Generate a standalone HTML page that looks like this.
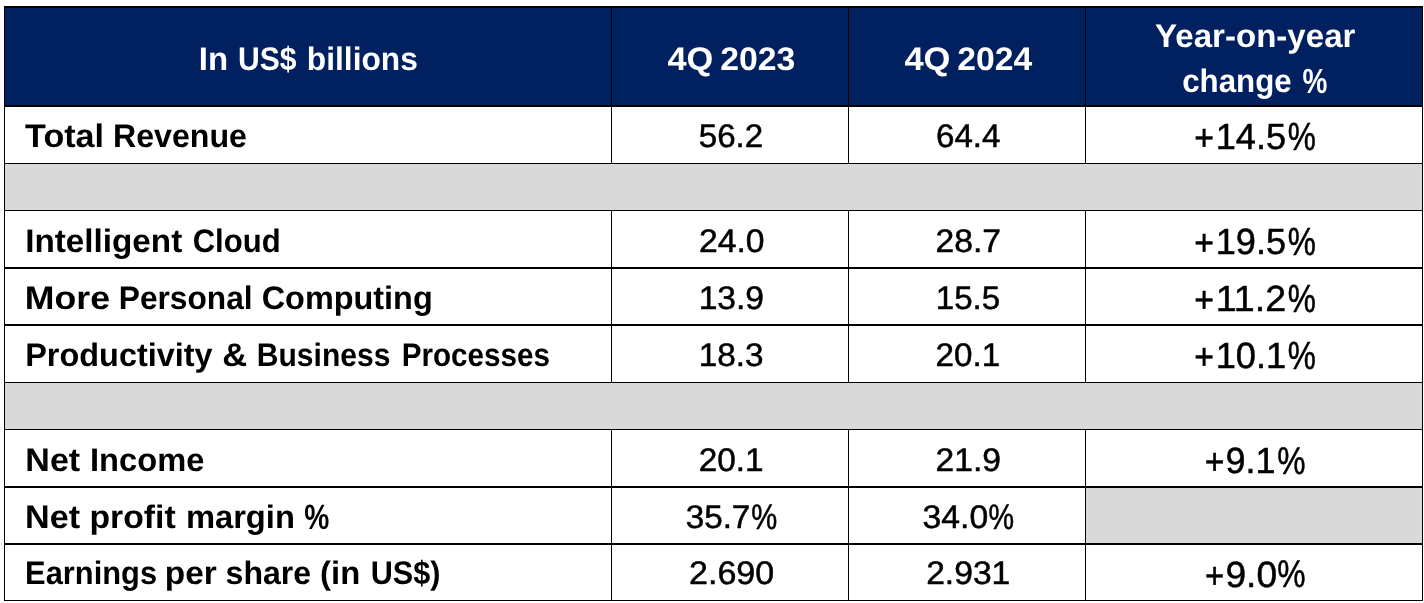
<!DOCTYPE html>
<html><head><meta charset="utf-8"><style>
html,body{margin:0;padding:0;background:#fff;width:1424px;height:603px;overflow:hidden}
svg{display:block}
text{font-family:"Liberation Sans",sans-serif}
</style></head><body>
<svg width="1424" height="603" viewBox="0 0 1424 603" shape-rendering="crispEdges">
<rect x="0" y="0" width="1424" height="603" fill="#fff"/>
<rect x="4" y="6" width="1419" height="101" fill="#002060"/>
<rect x="5" y="164" width="1417" height="46" fill="#d9d9d9"/>
<rect x="5" y="383" width="1417" height="46" fill="#d9d9d9"/>
<rect x="1086" y="488" width="336" height="55" fill="#d9d9d9"/>
<rect x="4" y="6" width="1419" height="2" fill="#000"/>
<rect x="4" y="6" width="1" height="595" fill="#000"/>
<rect x="1422" y="6" width="1" height="595" fill="#000"/>
<rect x="4" y="600" width="1419" height="1" fill="#000"/>
<rect x="4" y="105" width="1419" height="2" fill="#000"/>
<rect x="4" y="163" width="1419" height="1" fill="#000"/>
<rect x="4" y="210" width="1419" height="1" fill="#000"/>
<rect x="4" y="267" width="1419" height="2" fill="#000"/>
<rect x="4" y="324" width="1419" height="2" fill="#000"/>
<rect x="4" y="382" width="1419" height="1" fill="#000"/>
<rect x="4" y="429" width="1419" height="1" fill="#000"/>
<rect x="4" y="486" width="1419" height="2" fill="#000"/>
<rect x="4" y="543" width="1419" height="2" fill="#000"/>
<rect x="611" y="6" width="1" height="158" fill="#000"/>
<rect x="611" y="210" width="1" height="173" fill="#000"/>
<rect x="611" y="429" width="1" height="172" fill="#000"/>
<rect x="848" y="6" width="1" height="158" fill="#000"/>
<rect x="848" y="210" width="1" height="173" fill="#000"/>
<rect x="848" y="429" width="1" height="172" fill="#000"/>
<rect x="1085" y="6" width="1" height="158" fill="#000"/>
<rect x="1085" y="210" width="1" height="173" fill="#000"/>
<rect x="1085" y="429" width="1" height="172" fill="#000"/>
<g text-rendering="geometricPrecision" style="will-change:transform">
<text transform="translate(198.77 70.10) scale(1.0139 1.0000)" font-size="32.6" font-weight="bold" fill="#fff">In</text>
<text transform="translate(237.97 70.10) scale(0.9252 1.0000)" font-size="32.6" font-weight="bold" fill="#fff">US$</text>
<text transform="translate(306.85 70.10) scale(0.9729 1.0000)" font-size="32.6" font-weight="bold" fill="#fff">billions</text>
<text transform="translate(667.40 69.90) scale(1.0542 1.0000)" font-size="32.6" font-weight="bold" fill="#fff">4Q</text>
<text transform="translate(720.26 69.90) scale(1.0362 1.0000)" font-size="32.6" font-weight="bold" fill="#fff">2023</text>
<text transform="translate(904.40 69.90) scale(1.0589 1.0000)" font-size="32.6" font-weight="bold" fill="#fff">4Q</text>
<text transform="translate(957.27 69.90) scale(1.0343 1.0000)" font-size="32.6" font-weight="bold" fill="#fff">2024</text>
<text transform="translate(1155.10 46.80) scale(1.0147 1.0000)" font-size="32.6" font-weight="bold" fill="#fff">Year-on-year</text>
<text transform="translate(1182.14 91.50) scale(0.9604 1.0000)" font-size="32.6" font-weight="bold" fill="#fff">change</text>
<text transform="translate(1302.50 92.80) scale(0.8586 1.0739)" font-size="32.6" font-weight="bold" fill="#fff">%</text>
<text transform="translate(25.10 146.70) scale(1.0471 1.0000)" font-size="32.6" font-weight="bold" fill="#000">Total</text>
<text transform="translate(112.93 146.70) scale(0.9873 1.0000)" font-size="32.6" font-weight="bold" fill="#000">Revenue</text>
<text transform="translate(25.16 251.80) scale(1.0211 1.0000)" font-size="32.6" font-weight="bold" fill="#000">Intelligent</text>
<text transform="translate(192.65 251.80) scale(0.9533 1.0000)" font-size="32.6" font-weight="bold" fill="#000">Cloud</text>
<text transform="translate(24.81 308.90) scale(1.0948 1.0000)" font-size="32.6" font-weight="bold" fill="#000">More</text>
<text transform="translate(118.75 308.90) scale(0.9726 1.0000)" font-size="32.6" font-weight="bold" fill="#000">Personal</text>
<text transform="translate(261.71 308.90) scale(0.9947 1.0000)" font-size="32.6" font-weight="bold" fill="#000">Computing</text>
<text transform="translate(25.21 365.80) scale(0.9955 1.0000)" font-size="32.6" font-weight="bold" fill="#000">Productivity</text>
<text transform="translate(222.24 365.80) scale(1.0591 1.0000)" font-size="32.6" font-weight="bold" fill="#000">&amp;</text>
<text transform="translate(256.86 365.80) scale(0.9214 1.0000)" font-size="32.6" font-weight="bold" fill="#000">Business</text>
<text transform="translate(401.68 365.80) scale(0.9093 1.0000)" font-size="32.6" font-weight="bold" fill="#000">Processes</text>
<text transform="translate(25.31 470.80) scale(1.0445 1.0000)" font-size="32.6" font-weight="bold" fill="#000">Net</text>
<text transform="translate(90.00 470.80) scale(1.0024 1.0000)" font-size="32.6" font-weight="bold" fill="#000">Income</text>
<text transform="translate(25.10 527.90) scale(1.0485 1.0000)" font-size="32.6" font-weight="bold" fill="#000">Net</text>
<text transform="translate(89.53 527.90) scale(1.0347 1.0000)" font-size="32.6" font-weight="bold" fill="#000">profit</text>
<text transform="translate(185.89 527.90) scale(1.0037 1.0000)" font-size="32.6" font-weight="bold" fill="#000">margin</text>
<text transform="translate(304.30 528.80) scale(0.8655 1.0783)" font-size="32.6" font-weight="bold" fill="#000">%</text>
<text transform="translate(25.11 584.30) scale(0.9466 1.0000)" font-size="32.6" font-weight="bold" fill="#000">Earnings</text>
<text transform="translate(164.75 584.30) scale(1.0241 1.0000)" font-size="32.6" font-weight="bold" fill="#000">per</text>
<text transform="translate(225.62 584.30) scale(0.9833 1.0000)" font-size="32.6" font-weight="bold" fill="#000">share</text>
<text transform="translate(320.09 584.30) scale(1.0081 1.0000)" font-size="32.6" font-weight="bold" fill="#000">(in</text>
<text transform="translate(370.76 584.30) scale(0.9396 1.0000)" font-size="32.6" font-weight="bold" fill="#000">US$)</text>
<text transform="translate(698.78 146.90) scale(1.0165 1.0000)" font-size="32.6" stroke="#000" stroke-width="0.5" fill="#000">56.2</text>
<text transform="translate(698.97 251.90) scale(1.0345 1.0000)" font-size="32.6" stroke="#000" stroke-width="0.5" fill="#000">24.0</text>
<text transform="translate(698.64 308.90) scale(1.0317 1.0000)" font-size="32.6" stroke="#000" stroke-width="0.5" fill="#000">13.9</text>
<text transform="translate(698.65 365.90) scale(1.0234 1.0000)" font-size="32.6" stroke="#000" stroke-width="0.5" fill="#000">18.3</text>
<text transform="translate(698.68 470.90) scale(1.0230 1.0000)" font-size="32.6" stroke="#000" stroke-width="0.5" fill="#000">20.1</text>
<text transform="translate(685.68 528.00) scale(1.0198 1.0000)" font-size="32.6" stroke="#000" stroke-width="0.5" fill="#000">35.7</text>
<text transform="translate(751.20 528.80) scale(0.8963 1.0870)" font-size="32.6" stroke="#000" stroke-width="0.5" fill="#000">%</text>
<text transform="translate(689.06 584.20) scale(1.0440 1.0000)" font-size="32.6" stroke="#000" stroke-width="0.5" fill="#000">2.690</text>
<text transform="translate(935.98 146.80) scale(1.0162 1.0000)" font-size="32.6" stroke="#000" stroke-width="0.5" fill="#000">64.4</text>
<text transform="translate(935.57 251.90) scale(1.0312 1.0000)" font-size="32.6" stroke="#000" stroke-width="0.5" fill="#000">28.7</text>
<text transform="translate(935.77 308.90) scale(1.0151 1.0000)" font-size="32.6" stroke="#000" stroke-width="0.5" fill="#000">15.5</text>
<text transform="translate(935.58 365.90) scale(1.0181 1.0000)" font-size="32.6" stroke="#000" stroke-width="0.5" fill="#000">20.1</text>
<text transform="translate(935.57 470.90) scale(1.0312 1.0000)" font-size="32.6" stroke="#000" stroke-width="0.5" fill="#000">21.9</text>
<text transform="translate(922.57 528.00) scale(1.0345 1.0000)" font-size="32.6" stroke="#000" stroke-width="0.5" fill="#000">34.0</text>
<text transform="translate(988.62 528.80) scale(0.8815 1.0870)" font-size="32.6" stroke="#000" stroke-width="0.5" fill="#000">%</text>
<text transform="translate(926.17 584.20) scale(1.0314 1.0000)" font-size="32.6" stroke="#000" stroke-width="0.5" fill="#000">2.931</text>
<text transform="translate(1194.37 150.00) scale(0.9263 1.0000)" font-size="36.4" stroke="#000" stroke-width="0.5" fill="#000">+</text>
<text transform="translate(1215.71 148.80) scale(0.9928 1.0000)" font-size="36.4" stroke="#000" stroke-width="0.5" fill="#000">14.5</text>
<text transform="translate(1287.63 149.80) scale(0.8677 1.0769)" font-size="36.4" stroke="#000" stroke-width="0.5" fill="#000">%</text>
<text transform="translate(1194.37 255.00) scale(0.9263 1.0000)" font-size="36.4" stroke="#000" stroke-width="0.5" fill="#000">+</text>
<text transform="translate(1215.71 253.80) scale(0.9928 1.0000)" font-size="36.4" stroke="#000" stroke-width="0.5" fill="#000">19.5</text>
<text transform="translate(1287.63 254.80) scale(0.8677 1.0769)" font-size="36.4" stroke="#000" stroke-width="0.5" fill="#000">%</text>
<text transform="translate(1194.37 312.00) scale(0.9263 1.0000)" font-size="36.4" stroke="#000" stroke-width="0.5" fill="#000">+</text>
<text transform="translate(1215.63 310.80) scale(1.0341 1.0000)" font-size="36.4" stroke="#000" stroke-width="0.5" fill="#000">11.2</text>
<text transform="translate(1287.63 311.80) scale(0.8677 1.0769)" font-size="36.4" stroke="#000" stroke-width="0.5" fill="#000">%</text>
<text transform="translate(1194.37 369.00) scale(0.9263 1.0000)" font-size="36.4" stroke="#000" stroke-width="0.5" fill="#000">+</text>
<text transform="translate(1215.71 367.80) scale(0.9957 1.0000)" font-size="36.4" stroke="#000" stroke-width="0.5" fill="#000">10.1</text>
<text transform="translate(1287.63 368.80) scale(0.8677 1.0769)" font-size="36.4" stroke="#000" stroke-width="0.5" fill="#000">%</text>
<text transform="translate(1204.77 474.10) scale(0.9263 1.0000)" font-size="36.4" stroke="#000" stroke-width="0.5" fill="#000">+</text>
<text transform="translate(1225.51 472.90) scale(0.9886 1.0000)" font-size="36.4" stroke="#000" stroke-width="0.5" fill="#000">9.1</text>
<text transform="translate(1277.13 473.50) scale(0.8742 1.0577)" font-size="36.4" stroke="#000" stroke-width="0.5" fill="#000">%</text>
<text transform="translate(1204.99 587.70) scale(0.9053 1.0000)" font-size="36.4" stroke="#000" stroke-width="0.5" fill="#000">+</text>
<text transform="translate(1225.48 586.50) scale(1.0197 1.0000)" font-size="36.4" stroke="#000" stroke-width="0.5" fill="#000">9.0</text>
<text transform="translate(1277.13 587.10) scale(0.8742 1.0577)" font-size="36.4" stroke="#000" stroke-width="0.5" fill="#000">%</text>
</g>
</svg>
</body></html>
